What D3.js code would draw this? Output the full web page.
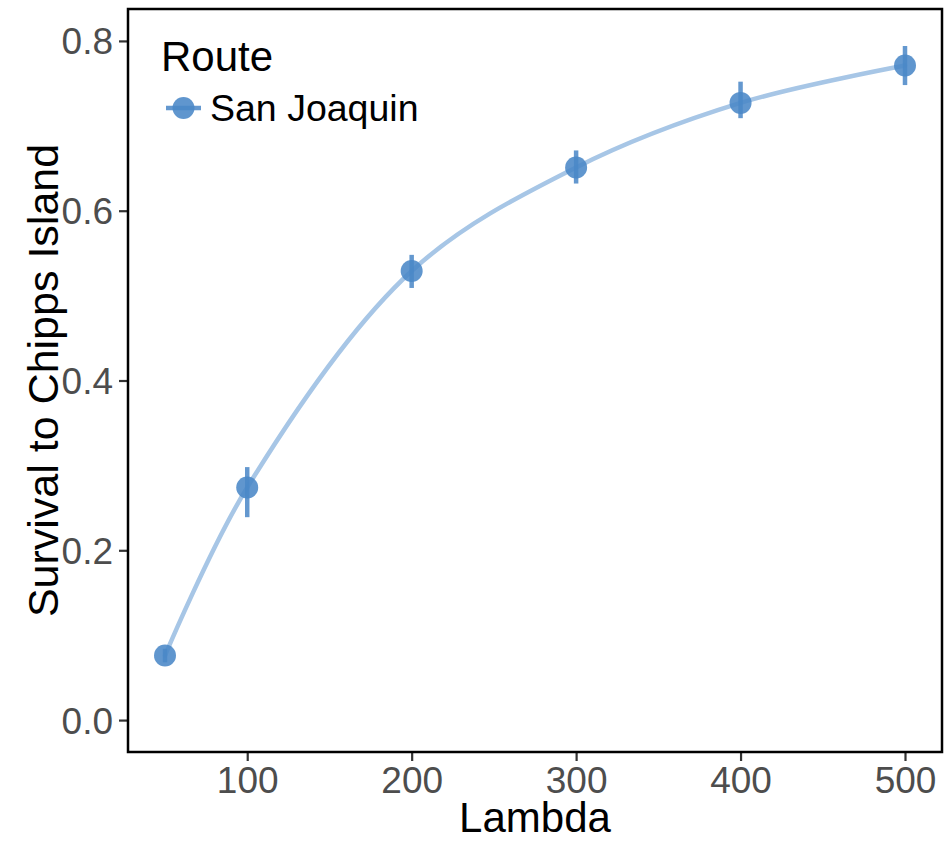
<!DOCTYPE html>
<html>
<head>
<meta charset="utf-8">
<script src="https://cdn.jsdelivr.net/npm/d3@7/dist/d3.min.js"></script>
<style>
  html, body { margin: 0; padding: 0; background: #fff; }
  svg { display: block; font-family: "Liberation Sans", Arial, sans-serif; }
</style>
</head>
<body>
<svg id="chart" width="945" height="843"></svg>
<script>
// Survival estimates by lambda for the San Joaquin route
const lambdas  = [50, 100, 200, 300, 400, 500];
const survival = [0.076, 0.274, 0.529, 0.651, 0.727, 0.771];
const lower    = [0.068, 0.239, 0.509, 0.632, 0.709, 0.748];
const upper    = [0.084, 0.298, 0.548, 0.671, 0.752, 0.794];
const xTicks   = [100, 200, 300, 400, 500];
const yTicks   = [0.0, 0.2, 0.4, 0.6, 0.8];
const routeName = "San Joaquin";

const pointColor = "#4a87c7";
const lineColor  = "#a7c6e6";

const svg = d3.select("#chart");
const panel = { left: 128, top: 9, right: 942, bottom: 752 };

const x = d3.scaleLinear().domain([27.5, 522.5]).range([panel.left, panel.right]);
const y = d3.scaleLinear().domain([-0.0376, 0.8376]).range([panel.bottom, panel.top]);

const data = lambdas.map((l, i) => ({ l, s: survival[i], lo: lower[i], hi: upper[i] }));

// fitted curve
svg.append("path")
  .datum(data)
  .attr("fill", "none")
  .attr("stroke", lineColor)
  .attr("stroke-width", 4.5)
  .attr("stroke-linecap", "round")
  .attr("d", d3.line().x(d => x(d.l)).y(d => y(d.s)).curve(d3.curveCatmullRom.alpha(0.5)));

// error bars
svg.append("g").selectAll("line")
  .data(data).join("line")
  .attr("x1", d => x(d.l)).attr("x2", d => x(d.l))
  .attr("y1", d => y(d.lo)).attr("y2", d => y(d.hi))
  .attr("stroke", pointColor).attr("stroke-width", 4.5)
  .attr("opacity", 0.85);

// points
svg.append("g").selectAll("circle")
  .data(data).join("circle")
  .attr("cx", d => x(d.l)).attr("cy", d => y(d.s))
  .attr("r", 11)
  .attr("fill", pointColor).attr("opacity", 0.88);

// axes
const xAxis = svg.append("g")
  .attr("transform", `translate(0,${panel.bottom})`)
  .call(d3.axisBottom(x).tickValues(xTicks).tickSize(9).tickPadding(5).tickFormat(d3.format("d")));
const yAxis = svg.append("g")
  .attr("transform", `translate(${panel.left},0)`)
  .call(d3.axisLeft(y).tickValues(yTicks).tickSize(9).tickPadding(6).tickFormat(d3.format(".1f")));

[xAxis, yAxis].forEach(g => {
  g.select(".domain").remove();
  g.selectAll(".tick line").attr("stroke", "#333").attr("stroke-width", 2.2);
  g.selectAll(".tick text")
    .attr("fill", "#4d4d4d")
    .style("font-size", "37px")
    .style("font-family", "Liberation Sans, Arial, sans-serif");
});
xAxis.selectAll(".tick text").attr("dy", "0.74em");
yAxis.selectAll(".tick text").attr("dy", "0.35em");

// panel border
svg.append("rect")
  .attr("x", panel.left).attr("y", panel.top)
  .attr("width", panel.right - panel.left).attr("height", panel.bottom - panel.top)
  .attr("fill", "none").attr("stroke", "#000").attr("stroke-width", 2.5);

// axis titles
svg.append("text")
  .attr("x", (panel.left + panel.right) / 2).attr("y", 832)
  .attr("text-anchor", "middle")
  .style("font-size", "42px").attr("fill", "#000")
  .text("Lambda");
svg.append("text")
  .attr("transform", `translate(58,${(panel.top + panel.bottom) / 2}) rotate(-90)`)
  .attr("text-anchor", "middle")
  .style("font-size", "43px").attr("fill", "#000")
  .text("Survival to Chipps Island");

// legend
const legend = svg.append("g");
legend.append("text")
  .attr("x", 161).attr("y", 71)
  .style("font-size", "42px").attr("fill", "#000")
  .text("Route");
legend.append("line")
  .attr("x1", 166).attr("x2", 201).attr("y1", 108).attr("y2", 108)
  .attr("stroke", pointColor).attr("stroke-width", 4.5).attr("opacity", 0.85);
legend.append("circle")
  .attr("cx", 183.5).attr("cy", 108).attr("r", 11)
  .attr("fill", pointColor).attr("opacity", 0.88);
legend.append("text")
  .attr("x", 210).attr("y", 121)
  .style("font-size", "37.5px").attr("fill", "#000")
  .text(routeName);
</script>
</body>
</html>
